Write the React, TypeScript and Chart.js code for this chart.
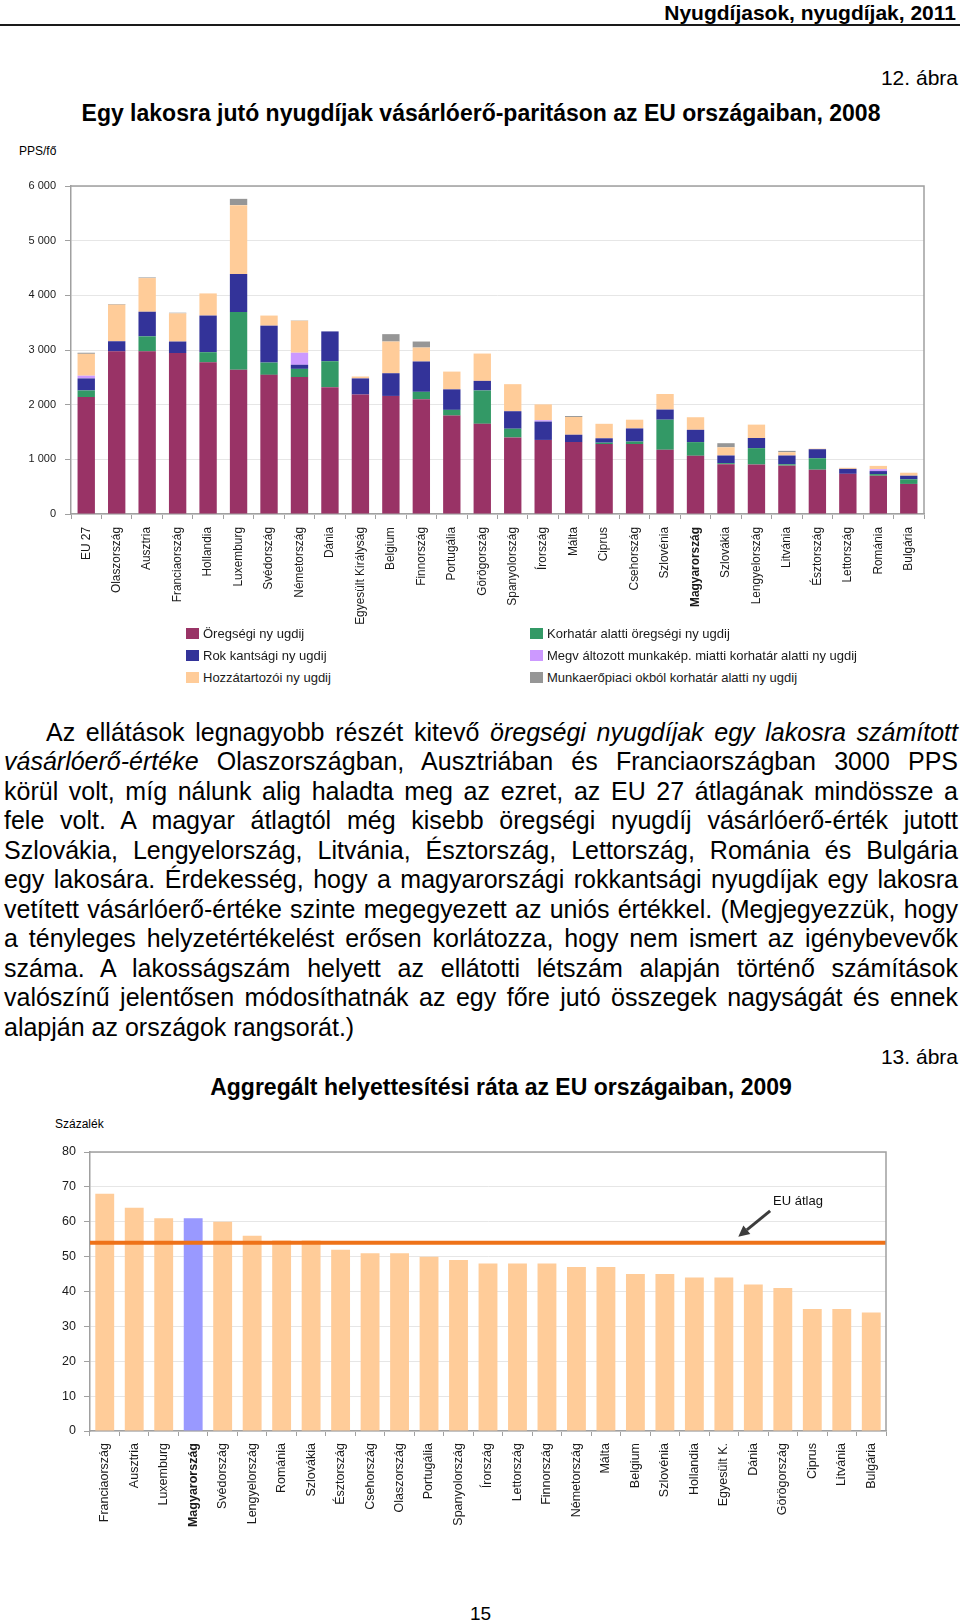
import React, { useEffect, useRef } from 'react';
import { Chart, registerables } from 'chart.js';

Chart.register(...registerables);

const FONT = '"Liberation Sans", Arial, Helvetica, sans-serif';

// ---------- Chart 1 (12. ábra) ----------
const countries1 = ['EU 27', 'Olaszország', 'Ausztria', 'Franciaország', 'Hollandia', 'Luxemburg', 'Svédország', 'Németország', 'Dánia', 'Egyesült Királyság', 'Belgium', 'Finnország', 'Portugália', 'Görögország', 'Spanyolország', 'Írország', 'Málta', 'Ciprus', 'Csehország', 'Szlovénia', 'Magyarország', 'Szlovákia', 'Lengyelország', 'Litvánia', 'Észtország', 'Lettország', 'Románia', 'Bulgária'];
const oldAge = [2140, 2975, 2975, 2945, 2775, 2640, 2545, 2505, 2320, 2185, 2160, 2100, 1800, 1650, 1400, 1355, 1315, 1280, 1280, 1175, 1065, 910, 905, 885, 810, 735, 700, 550];
const earlyOldAge = [120, 0, 275, 0, 185, 1055, 225, 150, 475, 0, 0, 135, 105, 610, 160, 0, 0, 25, 45, 550, 250, 20, 300, 25, 210, 0, 30, 85];
const disability = [220, 185, 450, 210, 670, 695, 675, 75, 545, 295, 415, 555, 375, 175, 320, 335, 135, 80, 240, 185, 225, 140, 185, 160, 165, 90, 55, 65];
const reducedCapacity = [50, 0, 0, 0, 0, 0, 0, 220, 0, 0, 0, 0, 0, 0, 0, 25, 0, 0, 0, 0, 0, 0, 0, 0, 0, 0, 35, 0];
const survivor = [400, 670, 615, 515, 405, 1260, 185, 585, 0, 35, 580, 255, 325, 500, 495, 290, 325, 265, 160, 285, 230, 150, 245, 60, 10, 20, 60, 55];
const labourMarket = [20, 12, 12, 12, 0, 115, 0, 6, 0, 0, 135, 110, 0, 0, 0, 0, 18, 0, 0, 0, 0, 75, 0, 25, 0, 0, 0, 0];
const seriesNames1 = ['Öregségi ny ugdij', 'Korhatár alatti öregségi ny ugdij', 'Rok kantsági ny ugdij', 'Megv áltozott munkakép. miatti korhatár alatti ny ugdij', 'Hozzátartozói ny ugdij', 'Munkaerőpiaci okból korhatár alatti ny ugdij'];
const seriesColors1 = ['#993366', '#339966', '#333399', '#CC99FF', '#FFCC99', '#969696'];
const yTicks1 = [0, 1000, 2000, 3000, 4000, 5000, 6000];

// ---------- Chart 2 (13. ábra) ----------
const countries2 = ['Franciaország', 'Ausztria', 'Luxemburg', 'Magyarország', 'Svédország', 'Lengyelország', 'Románia', 'Szlovákia', 'Észtország', 'Csehország', 'Olaszország', 'Portugália', 'Spanyolország', 'Írország', 'Lettország', 'Finnország', 'Németország', 'Málta', 'Belgium', 'Szlovénia', 'Hollandia', 'Egyesült K.', 'Dánia', 'Görögország', 'Ciprus', 'Litvánia', 'Bulgária'];
const replacementRate = [68, 64, 61, 61, 60, 56, 54.6, 54.6, 52, 51, 51, 50, 49, 48, 48, 48, 47, 47, 45, 45, 44, 44, 42, 41, 35, 35, 34];
const EU_AVG = 54;
const EU_LABEL = 'EU átlag';
const ARROW_FROM = [22.57, 63.1];
const ARROW_TO = [21.49, 55.7];
const LABEL_POS = [22.67, 64.8];
const HIGHLIGHT = 'Magyarország';

const fmtThousands = (v: number) => String(v).replace(/\B(?=(\d{3})+(?!\d))/g, ' ');

const framePlugin = {
  id: 'frame',
  afterDraw(chart: any) {
    const { ctx, chartArea: a } = chart;
    ctx.save();
    ctx.strokeStyle = '#a0a0a0';
    ctx.lineWidth = 1.5;
    ctx.beginPath();
    ctx.moveTo(a.left, a.top);
    ctx.lineTo(a.right, a.top);
    ctx.lineTo(a.right, a.bottom);
    ctx.stroke();
    ctx.restore();
  },
};

const euPlugin = {
  id: 'euAvg',
  afterDatasetsDraw(chart: any) {
    const { ctx, chartArea: a, scales } = chart;
    const x = scales.x;
    const y = scales.y;
    const py = y.getPixelForValue(EU_AVG);
    ctx.save();
    ctx.strokeStyle = '#EE7219';
    ctx.lineWidth = 4;
    ctx.beginPath();
    ctx.moveTo(a.left, py);
    ctx.lineTo(a.right, py);
    ctx.stroke();

    const x1 = x.getPixelForValue(ARROW_FROM[0]);
    const y1 = y.getPixelForValue(ARROW_FROM[1]);
    const x2 = x.getPixelForValue(ARROW_TO[0]);
    const y2 = y.getPixelForValue(ARROW_TO[1]);
    const ang = Math.atan2(y2 - y1, x2 - x1);
    const head = 11;
    const bx = x2 - head * Math.cos(ang);
    const by = y2 - head * Math.sin(ang);
    ctx.strokeStyle = '#3c3c3c';
    ctx.fillStyle = '#3c3c3c';
    ctx.lineWidth = 3;
    ctx.beginPath();
    ctx.moveTo(x1, y1);
    ctx.lineTo(bx, by);
    ctx.stroke();
    const px = -Math.sin(ang) * 5.5;
    const pyy = Math.cos(ang) * 5.5;
    ctx.beginPath();
    ctx.moveTo(x2, y2);
    ctx.lineTo(bx + px, by + pyy);
    ctx.lineTo(bx - px, by - pyy);
    ctx.closePath();
    ctx.fill();

    ctx.fillStyle = '#111';
    ctx.font = `13px ${FONT}`;
    ctx.textBaseline = 'alphabetic';
    ctx.textAlign = 'left';
    ctx.fillText(EU_LABEL, x.getPixelForValue(LABEL_POS[0]), y.getPixelForValue(LABEL_POS[1]));
    ctx.restore();
  },
};

function PensionChart() {
  const ref = useRef<HTMLCanvasElement>(null);
  useEffect(() => {
    const series = [oldAge, earlyOldAge, disability, reducedCapacity, survivor, labourMarket];
    const chart = new Chart(ref.current as HTMLCanvasElement, {
      type: 'bar',
      data: {
        labels: countries1,
        datasets: series.map((d, i) => ({
          label: seriesNames1[i],
          data: d,
          backgroundColor: seriesColors1[i],
          borderWidth: 0,
          barPercentage: 0.57,
          categoryPercentage: 1,
        })),
      },
      options: {
        animation: false,
        responsive: false,
        maintainAspectRatio: false,
        layout: { padding: { top: 26, right: 36, left: 0, bottom: 0 } },
        plugins: { legend: { display: false }, tooltip: { enabled: false } },
        scales: {
          x: {
            stacked: true,
            grid: { display: true, drawOnChartArea: false, drawTicks: true, tickLength: 5, tickColor: '#a0a0a0' },
            border: { color: '#a0a0a0', width: 1.5 },
            ticks: {
              autoSkip: false,
              minRotation: 90,
              maxRotation: 90,
              padding: 8,
              color: '#1a1a1a',
              font: (c: any) => ({ family: FONT, size: 11.9, weight: countries1[c.index] === HIGHLIGHT ? 'bold' : 'normal' }),
            },
            afterFit: (s: any) => { s.height = 126; },
          },
          y: {
            stacked: true,
            min: yTicks1[0],
            max: yTicks1[yTicks1.length - 1],
            grid: { color: '#e6e6e6', tickLength: 6, tickColor: '#a0a0a0' },
            border: { color: '#a0a0a0', width: 1.5 },
            ticks: {
              stepSize: 1000,
              padding: 9,
              color: '#1a1a1a',
              font: { family: FONT, size: 11 },
              callback: (v: any) => fmtThousands(Number(v)),
            },
            afterFit: (s: any) => { s.width = 71; },
          },
        },
      },
      plugins: [framePlugin],
    });
    return () => chart.destroy();
  }, []);
  return <canvas ref={ref} width={960} height={480} style={{ position: 'absolute', left: 0, top: 160, display: 'block' }} />;
}

function RateChart() {
  const ref = useRef<HTMLCanvasElement>(null);
  useEffect(() => {
    const chart = new Chart(ref.current as HTMLCanvasElement, {
      type: 'bar',
      data: {
        labels: countries2,
        datasets: [{
          label: 'Aggregált helyettesítési ráta',
          data: replacementRate,
          backgroundColor: countries2.map((c) => (c === HIGHLIGHT ? '#9999FF' : '#FFCC99')),
          borderWidth: 0,
          barPercentage: 0.64,
          categoryPercentage: 1,
        }],
      },
      options: {
        animation: false,
        responsive: false,
        maintainAspectRatio: false,
        layout: { padding: { top: 22, right: 74, left: 0, bottom: 0 } },
        plugins: { legend: { display: false }, tooltip: { enabled: false } },
        scales: {
          x: {
            grid: { display: true, drawOnChartArea: false, drawTicks: true, tickLength: 5, tickColor: '#a0a0a0' },
            border: { color: '#a0a0a0', width: 1.5 },
            ticks: {
              autoSkip: false,
              minRotation: 90,
              maxRotation: 90,
              padding: 7,
              color: '#1a1a1a',
              font: (c: any) => ({ family: FONT, size: 12.5, weight: countries2[c.index] === HIGHLIGHT ? 'bold' : 'normal' }),
            },
            afterFit: (s: any) => { s.height = 119; },
          },
          y: {
            min: 0,
            max: 80,
            grid: { color: '#e6e6e6', tickLength: 6, tickColor: '#a0a0a0' },
            border: { color: '#a0a0a0', width: 1.5 },
            ticks: { stepSize: 10, padding: 8, color: '#1a1a1a', font: { family: FONT, size: 12.5 } },
            afterFit: (s: any) => { s.width = 90; },
          },
        },
      },
      plugins: [framePlugin, euPlugin],
    });
    return () => chart.destroy();
  }, []);
  return <canvas ref={ref} width={960} height={420} style={{ position: 'absolute', left: 0, top: 1130, display: 'block' }} />;
}

const abs = (extra: React.CSSProperties): React.CSSProperties => ({ position: 'absolute', whiteSpace: 'nowrap', margin: 0, ...extra });

const paragraphLines: React.ReactNode[] = [
  <>Az ellátások legnagyobb részét kitevő <i>öregségi nyugdíjak egy lakosra számított</i></>,
  <><i>vásárlóerő-értéke</i> Olaszországban, Ausztriában és Franciaországban 3000 PPS</>,
  <>körül volt, míg nálunk alig haladta meg az ezret, az EU 27 átlagának mindössze a</>,
  <>fele volt. A magyar átlagtól még kisebb öregségi nyugdíj vásárlóerő-érték jutott</>,
  <>Szlovákia, Lengyelország, Litvánia, Észtország, Lettország, Románia és Bulgária</>,
  <>egy lakosára. Érdekesség, hogy a magyarországi rokkantsági nyugdíjak egy lakosra</>,
  <>vetített vásárlóerő-értéke szinte megegyezett az uniós értékkel. (Megjegyezzük, hogy</>,
  <>a tényleges helyzetértékelést erősen korlátozza, hogy nem ismert az igénybevevők</>,
  <>száma. A lakosságszám helyett az ellátotti létszám alapján történő számítások</>,
  <>valószínű jelentősen módosíthatnák az egy főre jutó összegek nagyságát és ennek</>,
  <>alapján az országok rangsorát.)</>,
];

const legendLayout = [
  { left: 186, top: 633 }, { left: 530, top: 633 },
  { left: 186, top: 655 }, { left: 530, top: 655 },
  { left: 186, top: 677 }, { left: 530, top: 677 },
];

export default function App() {
  return (
    <div style={{ position: 'absolute', left: 0, top: 0, width: 960, height: 1622, background: '#fff', fontFamily: FONT, color: '#000', overflow: 'hidden' }}>
      <div style={abs({ right: 4, top: 2, fontSize: 21, lineHeight: '21px', fontWeight: 'bold' })}>Nyugdíjasok, nyugdíjak, 2011</div>
      <div style={abs({ left: 0, top: 24, width: 960, height: 2, background: '#1a1a1a' })} />
      <div style={abs({ right: 2, top: 67, fontSize: 21, lineHeight: '21px' })}>12. ábra</div>
      <div style={abs({ left: 0, top: 102, width: 962, textAlign: 'center', fontSize: 23, lineHeight: '23px', fontWeight: 'bold' })}>Egy lakosra jutó nyugdíjak vásárlóerő-paritáson az EU országaiban, 2008</div>
      <div style={abs({ left: 19, top: 145, fontSize: 12, lineHeight: '12px' })}>PPS/fő</div>
      <PensionChart />
      {seriesNames1.map((name, i) => (
        <div key={name} style={abs({ left: legendLayout[i].left, top: legendLayout[i].top - 8, height: 16, display: 'flex', alignItems: 'center', fontSize: 13, color: '#1a1a1a' })}>
          <span style={{ display: 'inline-block', width: 13, height: 11, background: seriesColors1[i], marginRight: 4 }} />
          <span>{name}</span>
        </div>
      ))}
      <div style={{ position: 'absolute', left: 4, top: 717.6, width: 954, fontSize: 25, lineHeight: '29.5px' }}>
        {paragraphLines.map((ln, i) => (
          <div key={i} style={{ textAlign: i < paragraphLines.length - 1 ? 'justify' : 'left', textAlignLast: i < paragraphLines.length - 1 ? 'justify' : 'left', textIndent: i === 0 ? 42 : 0 } as React.CSSProperties}>{ln}</div>
        ))}
      </div>
      <div style={abs({ right: 2, top: 1046, fontSize: 21, lineHeight: '21px' })}>13. ábra</div>
      <div style={abs({ left: 0, top: 1075.5, width: 1002, textAlign: 'center', fontSize: 23, lineHeight: '23px', fontWeight: 'bold' })}>Aggregált helyettesítési ráta az EU országaiban, 2009</div>
      <div style={abs({ left: 55, top: 1118, fontSize: 12, lineHeight: '12px' })}>Százalék</div>
      <RateChart />
      <div style={abs({ left: 470, top: 1604, fontSize: 19, lineHeight: '19px' })}>15</div>
    </div>
  );
}
